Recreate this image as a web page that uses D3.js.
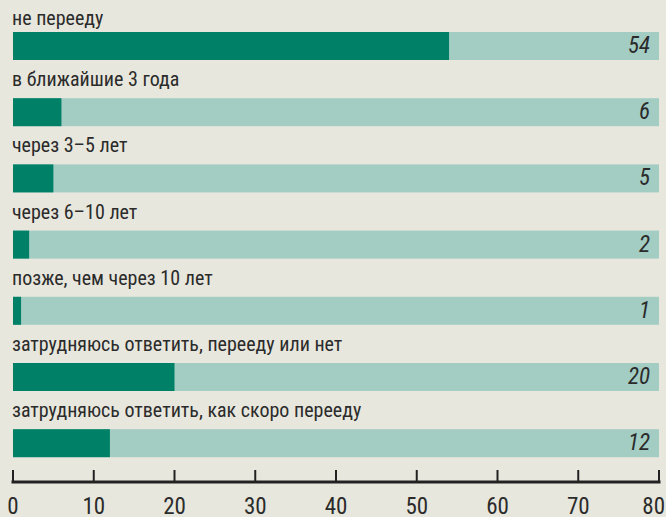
<!DOCTYPE html>
<html>
<head>
<meta charset="utf-8">
<script src="https://cdn.jsdelivr.net/npm/d3@7"></script>
<style>
  html, body { margin: 0; padding: 0; background: #e8e7dd; }
  svg { display: block; }
  .lbl { font-family: "Liberation Sans Narrow", "Roboto Condensed", "Liberation Sans", sans-serif; fill: #2b2b2b; }
</style>
</head>
<body>
<div id="chart"></div>
<script>
const categories = [
    'не перееду',
    'в ближайшие 3 года',
    'через 3–5 лет',
    'через 6–10 лет',
    'позже, чем через 10 лет',
    'затрудняюсь ответить, перееду или нет',
    'затрудняюсь ответить, как скоро перееду'
];
const values = [54, 6, 5, 2, 1, 20, 12];
const tickValues = [0, 10, 20, 30, 40, 50, 60, 70, 80];

const W = 666, H = 517;
const svg = d3.select('#chart').append('svg')
    .attr('width', W)
    .attr('height', H);

svg.append('rect').attr('width', W).attr('height', H).attr('fill', '#e8e7dd');

const x = d3.scaleLinear()
    .domain([0, 80])
    .range([13, 659]);

// one row every 66 px, bar occupies the top 28 px of the row
const y = d3.scaleBand()
    .domain(categories)
    .range([32, 32 + 66.2 * categories.length])
    .padding(0);

const bh = 28;
const rows = categories.map((c, i) => ({cat: c, value: values[i]}));

const g = svg.append('g');

g.selectAll('rect.bg')
    .data(rows)
    .join('rect')
    .attr('class', 'bg')
    .attr('x', x(0))
    .attr('y', d => y(d.cat))
    .attr('width', x(80) - x(0))
    .attr('height', bh)
    .attr('fill', '#a3ccc3');

g.selectAll('rect.val')
    .data(rows)
    .join('rect')
    .attr('class', 'val')
    .attr('x', x(0))
    .attr('y', d => y(d.cat))
    .attr('width', d => x(d.value) - x(0))
    .attr('height', bh)
    .attr('fill', '#008067');

g.selectAll('text.cat')
    .data(rows)
    .join('text')
    .attr('class', 'lbl cat')
    .attr('x', 12)
    .attr('y', d => Math.max(y(d.cat) - 12, 25))
    .attr('font-size', 20)
    .text(d => d.cat);

g.selectAll('text.num')
    .data(rows)
    .join('text')
    .attr('class', 'lbl num')
    .attr('x', 650)
    .attr('y', d => y(d.cat) + 21)
    .attr('text-anchor', 'end')
    .attr('font-size', 23)
    .attr('font-style', 'italic')
    .text(d => d.value);

// axis
const axisY = 482;
const axis = svg.append('g').attr('transform', `translate(0,${axisY})`);
axis.append('line')
    .attr('x1', x(0) - 1.5).attr('x2', x(80) + 1.5)
    .attr('stroke', '#222').attr('stroke-width', 3);
axis.selectAll('line.tick')
    .data(tickValues)
    .join('line')
    .attr('class', 'tick')
    .attr('x1', d => x(d)).attr('x2', d => x(d))
    .attr('y1', 0).attr('y2', -12)
    .attr('stroke', '#222').attr('stroke-width', 2);
axis.selectAll('text')
    .data(tickValues)
    .join('text')
    .attr('class', 'lbl')
    .attr('x', (d, i) => i === tickValues.length - 1 ? 665 : x(d))
    .attr('y', 32)
    .attr('text-anchor', (d, i) => i === tickValues.length - 1 ? 'end' : 'middle')
    .attr('font-size', 23)
    .text(d => d);
</script>
</body>
</html>
